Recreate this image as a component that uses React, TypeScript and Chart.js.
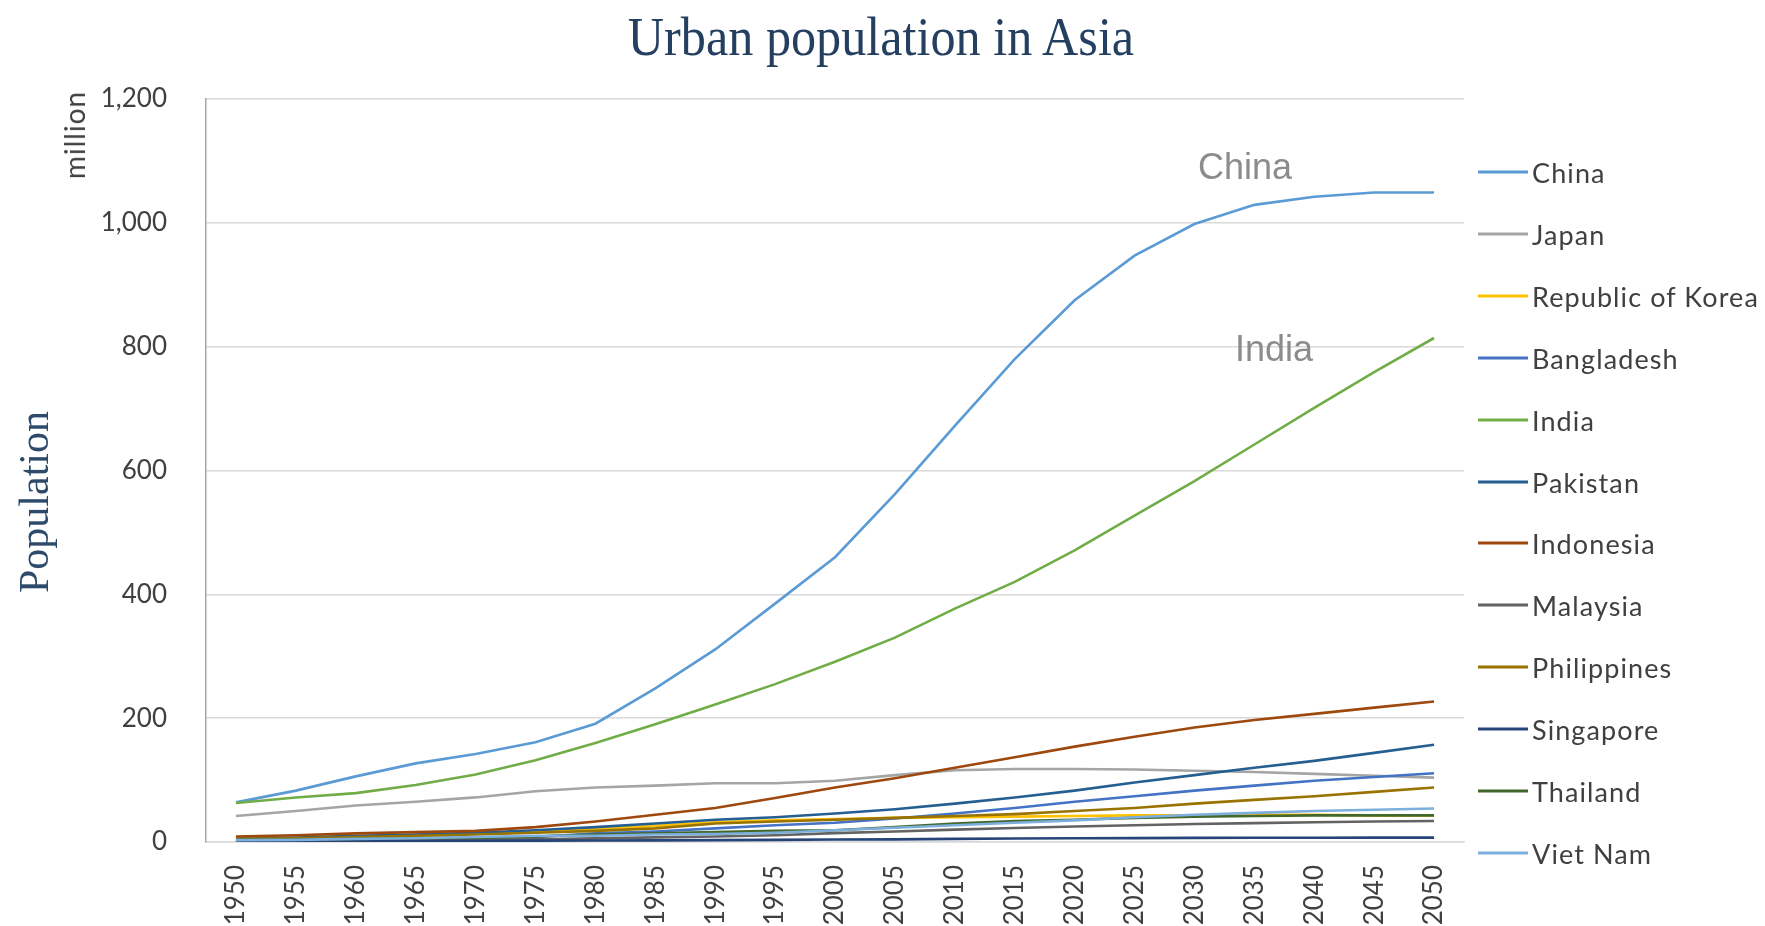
import React, { useEffect, useRef } from "react";
import { Chart, registerables } from "chart.js";
Chart.register(...registerables);

const years = ["1950","1955","1960","1965","1970","1975","1980","1985","1990","1995","2000","2005","2010","2015","2020","2025","2030","2035","2040","2045","2050"];

const china = [64, 83, 106, 127, 142, 161, 191, 248, 311, 385, 460, 562, 672, 780, 875, 947, 998, 1029, 1042, 1049, 1049];
const japan = [42, 50, 59, 65, 72, 82, 88, 91, 95, 95, 99, 108, 116, 118, 118, 117, 115, 113, 110, 107, 104];
const korea = [4, 5, 7, 9, 13, 17, 21, 26, 32, 35, 37, 39, 40, 41, 42, 43, 43, 44, 44, 43, 43];
const bangladesh = [2, 2.5, 3, 4, 6, 8, 14, 17, 22, 27, 31, 38, 46, 55, 65, 74, 83, 91, 99, 105, 111];
const india = [63, 72, 79, 92, 109, 132, 160, 190, 222, 255, 291, 330, 377, 420, 471, 527, 583, 642, 701, 759, 814];
const pakistan = [6, 7, 10, 12, 15, 19, 24, 30, 36, 40, 46, 53, 62, 72, 83, 96, 108, 120, 131, 144, 157];
const indonesia = [9, 11, 14, 16, 18, 24, 33, 44, 55, 71, 88, 103, 120, 137, 154, 170, 185, 197, 207, 217, 227];
const malaysia = [1.3, 1.7, 2.2, 2.8, 3.5, 4.5, 5.8, 7.5, 9, 11, 14.4, 17, 20, 22.5, 25, 27, 29, 30.5, 32, 33, 34];
const philippines = [5, 6, 8, 10, 12, 15, 18, 22, 30, 33, 36, 39, 42, 45, 50, 55, 62, 68, 74, 81, 88];
const singapore = [1.0, 1.3, 1.6, 1.9, 2.1, 2.3, 2.4, 2.7, 3.0, 3.5, 4.0, 4.3, 5.1, 5.6, 6.0, 6.3, 6.6, 6.8, 6.9, 7.0, 7.1];
const thailand = [3.4, 4, 5, 6, 7, 9, 12, 14, 16, 18, 19, 24, 30, 34, 36, 39, 41, 42, 43, 43, 43];
const vietnam = [3, 3.5, 5, 6, 8, 10, 10, 12, 13, 15, 19, 23, 27, 31, 35, 40, 44, 47, 50, 52, 54];

const seriesNames = ["China","Japan","Republic of Korea","Bangladesh","India","Pakistan","Indonesia","Malaysia","Philippines","Singapore","Thailand","Viet Nam"];
const seriesData = [china, japan, korea, bangladesh, india, pakistan, indonesia, malaysia, philippines, singapore, thailand, vietnam];
const seriesColors = ["#5B9BD5","#A5A5A5","#FFC000","#4472C4","#70AD47","#255E91","#9E480E","#636363","#997300","#264478","#43682B","#7CAFDD"];

const yTicks = [0, 200, 400, 600, 800, 1000, 1200];

const SANS = "Lato, 'Open Sans', sans-serif";

export default function App() {
  const ref = useRef<HTMLCanvasElement>(null);
  useEffect(() => {
    const N = seriesNames.length;
    const chart = new Chart(ref.current!, {
      type: "line",
      data: {
        labels: years,
        datasets: seriesNames.map((name, i) => ({
          label: name,
          data: seriesData[i],
          borderColor: seriesColors[i],
          backgroundColor: seriesColors[i],
          borderWidth: 2.6,
          pointRadius: 0,
          tension: 0,
          fill: false,
          order: N - 1 - i,
        })),
      },
      options: {
        animation: false,
        responsive: false,
        maintainAspectRatio: false,
        layout: { padding: { top: 99, right: 301, left: 0, bottom: 0 } },
        plugins: {
          legend: { display: false },
          title: { display: false },
          tooltip: { enabled: false },
        },
        scales: {
          x: {
            offset: true,
            grid: { display: false, drawTicks: false },
            border: { display: true, color: "#D9D9D9", width: 1.5 },
            ticks: {
              minRotation: 90,
              maxRotation: 90,
              autoSkip: false,
              padding: 23,
              color: "#404040",
              font: { family: SANS, size: 26 },
            },
            afterFit: (s: any) => { s.height = 84; },
          },
          y: {
            min: yTicks[0],
            max: yTicks[yTicks.length - 1],
            ticks: {
              stepSize: 200,
              padding: 39,
              color: "#404040",
              font: { family: SANS, size: 26 },
            },
            grid: { color: "#D9D9D9", lineWidth: 1.5, drawTicks: false },
            border: { display: true, color: "#A6A6A6", width: 1.5 },
            afterFit: (s: any) => { s.width = 206; },
          },
        },
      },
    });
    return () => chart.destroy();
  }, []);

  const rot = (x: number, y: number): React.CSSProperties => ({
    position: "absolute", left: x, top: y, transform: "translate(-50%, -50%) rotate(-90deg)",
    whiteSpace: "nowrap", lineHeight: 1,
  });

  return (
    <div style={{ position: "fixed", left: 0, top: 0, width: 1765, height: 926, background: "#fff", overflow: "hidden" }}>
      <canvas ref={ref} width={1765} height={926} style={{ display: "block", position: "absolute", left: 0, top: 0 }} />
      <div style={{ position: "absolute", left: 881, top: 37, transform: "translate(-50%, -50%) scaleX(0.93)", whiteSpace: "nowrap", lineHeight: 1, fontFamily: "'Liberation Serif', 'DejaVu Serif', serif", fontSize: 54, color: "#243F60" }}>
        Urban population in Asia
      </div>
      <div style={{ ...rot(34, 502), fontFamily: "'Liberation Serif', serif", fontSize: 42, color: "#2E4A6A" }}>Population</div>
      <div style={{ ...rot(74, 135), fontFamily: SANS, fontSize: 28, letterSpacing: 1, color: "#404040" }}>million</div>
      <div style={{ position: "absolute", left: 1245, top: 167, transform: "translate(-50%, -50%)", lineHeight: 1, fontFamily: "'Liberation Sans', Arial, sans-serif", fontSize: 36, color: "#8C8C8C" }}>China</div>
      <div style={{ position: "absolute", left: 1274, top: 349, transform: "translate(-50%, -50%)", lineHeight: 1, fontFamily: "'Liberation Sans', Arial, sans-serif", fontSize: 36, color: "#8C8C8C" }}>India</div>
      {seriesNames.map((name, i) => (
        <div key={name} style={{ position: "absolute", left: 1478, top: 172 + i * 61.9, transform: "translateY(-50%)", display: "flex", alignItems: "center", whiteSpace: "nowrap" }}>
          <div style={{ width: 50, height: 3, background: seriesColors[i] }} />
          <span style={{ marginLeft: 4, fontFamily: SANS, fontSize: 27, letterSpacing: 1.1, color: "#404040", lineHeight: 1 }}>{name}</span>
        </div>
      ))}
    </div>
  );
}
